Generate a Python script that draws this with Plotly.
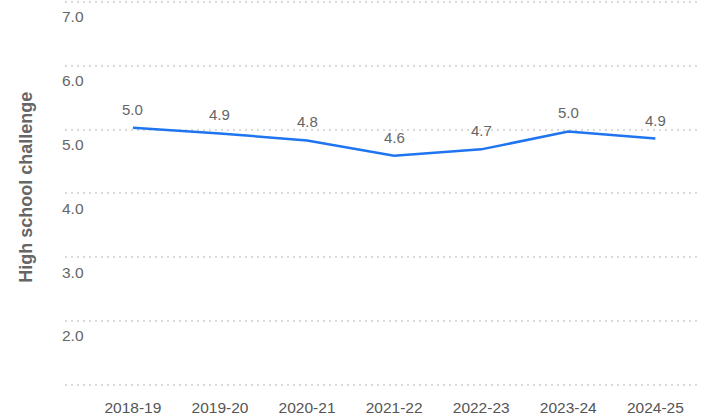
import plotly.graph_objects as go

seasons = ["2018-19", "2019-20", "2020-21", "2021-22", "2022-23", "2023-24", "2024-25"]
values = [5.03, 4.94, 4.83, 4.59, 4.69, 4.97, 4.86]
y_tick_vals = [1, 2, 3, 4, 5, 6, 7]
y_tick_text = ["", "2.0", "3.0", "4.0", "5.0", "6.0", "7.0"]
y_title = "High school challenge"

FONT = "Liberation Sans, Arial, sans-serif"

fig = go.Figure()
fig.add_trace(go.Scatter(
    x=list(range(len(seasons))), y=values, mode="lines",
    line=dict(color="#1f74ef", width=2.5), hoverinfo="skip", showlegend=False,
))

for i, v in enumerate(values):
    fig.add_annotation(x=i, y=v, text=f"{v:.1f}", showarrow=False,
                       yanchor="bottom", yshift=8,
                       font=dict(family=FONT, size=15, color="#666666"))

fig.add_annotation(xref="paper", yref="paper", x=-0.063, y=0.514, xanchor="center", yanchor="middle",
                   text=f"<b>{y_title}</b>", textangle=-90, showarrow=False,
                   font=dict(family=FONT, size=18, color="#666666"))

fig.update_layout(
    width=707, height=418,
    margin=dict(l=65, r=9, t=0, b=32),
    paper_bgcolor="white", plot_bgcolor="white",
    font=dict(family=FONT, size=15, color="#666666"),
    xaxis=dict(
        tickmode="array", tickvals=list(range(len(seasons))), ticktext=seasons,
        range=[-0.78, 6.49], showgrid=False, zeroline=False, showline=False,
        ticks="", tickfont=dict(family=FONT, size=15.5, color="#555555"),
        ticklabelstandoff=10,
    ),
    yaxis=dict(
        tickmode="array", tickvals=y_tick_vals, ticktext=y_tick_text,
        range=[0.98, 7.0313], showgrid=True, gridcolor="#d9d9d9", griddash="2px,4px", gridwidth=2,
        zeroline=False, showline=False, ticks="",
        ticklabelposition="inside", ticklabelshift=15, ticklabelstandoff=-6,
        tickfont=dict(family=FONT, size=15.5, color="#666666"),
    ),
)

fig.write_html("out.html", config={"displayModeBar": False},
               post_script="document.body.style.margin='0';")
